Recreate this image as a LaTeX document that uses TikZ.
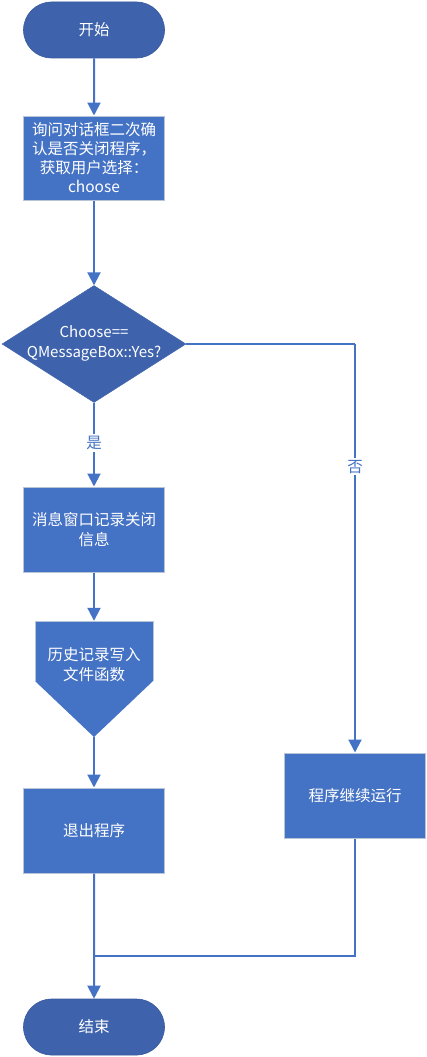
\documentclass[tikz,border=0pt]{standalone}
\usepackage{fontspec}
\newfontfamily\cjk{Noto Sans CJK SC}
\usetikzlibrary{shapes.geometric,shapes.misc,arrows.meta}
\definecolor{dblue}{HTML}{3E63AC}
\definecolor{mblue}{HTML}{4472C4}
\definecolor{lborder}{HTML}{B8C4D8}
\tikzset{
  every node/.style={font=\cjk\fontsize{15.5}{20}\selectfont, text=white, align=center},
  term/.style={rounded rectangle, fill=dblue, draw=dblue!90!black, line width=0.6pt, minimum width=141pt, minimum height=56pt, inner sep=0pt},
  procbox/.style={rectangle, fill=mblue, draw=lborder, line width=1pt, minimum width=141pt, inner sep=0pt},
  decbox/.style={diamond, fill=dblue, draw=dblue, minimum width=184pt, minimum height=117pt, inner sep=0pt},
  conn/.style={draw=mblue, line width=2pt},
  arr/.style={conn, -{Triangle[width=13pt,length=13pt]}},
  lbl/.style={text=mblue, fill=white, inner sep=2pt},
}
\begin{document}
\begin{tikzpicture}[x=1pt,y=-1pt]
\useasboundingbox (0,0) rectangle (426,1057);
\node[term] (start) at (94,30) {开始};
\node[procbox, minimum height=84pt] (ask) at (94,158) {};
\node[font=\cjk\fontsize{15.5}{19}\selectfont] (asktext) at (94,158) {询问对话框二次确\\认是否关闭程序，\\获取用户选择：\\choose};
\node[decbox] (dec) at (94,344) {};
\node[font=\cjk\fontsize{15}{20}\selectfont] (dectext) at (94,343) {Choose==\\QMessageBox::Yes?};
\node[procbox, minimum height=85pt] (msg) at (94,529.5) {消息窗口记录关闭\\信息};
\node[minimum width=118pt, minimum height=116pt, inner sep=0pt] (hist) at (94,679) {};
\fill[mblue] (35,621) -- (153,621) -- (153,681) -- (94,737) -- (35,681) -- cycle;
\draw[lborder, line width=1pt] (35,681) -- (35,621) -- (153,621) -- (153,681);
\node (histtext) at (94,665) {历史记录写入\\文件函数};
\node[procbox, minimum height=85pt] (quit) at (94,830.5) {退出程序};
\node[procbox, minimum height=85pt] (cont) at (355,795.5) {程序继续运行};
\node[term] (end) at (94,1027) {结束};
\coordinate (rc) at (355,344);
\coordinate (mr) at (355,956);
\coordinate (ml) at (94,956);
\draw[arr] (start) -- (ask);
\draw[arr] (ask) -- (dec.north);
\draw[arr] (dec.south) -- node[lbl, pos=0.48] {是} (msg);
\draw[arr] (msg) -- (hist.north);
\draw[arr] (hist.south) -- (quit);
\draw[arr] (quit) -- (end);
\draw[conn] (dec.east) -- (rc);
\draw[arr] (rc) -- node[lbl, pos=0.3] {否} (cont.north);
\draw[conn] (cont.south) -- (mr) -- (ml);
\end{tikzpicture}
\end{document}
